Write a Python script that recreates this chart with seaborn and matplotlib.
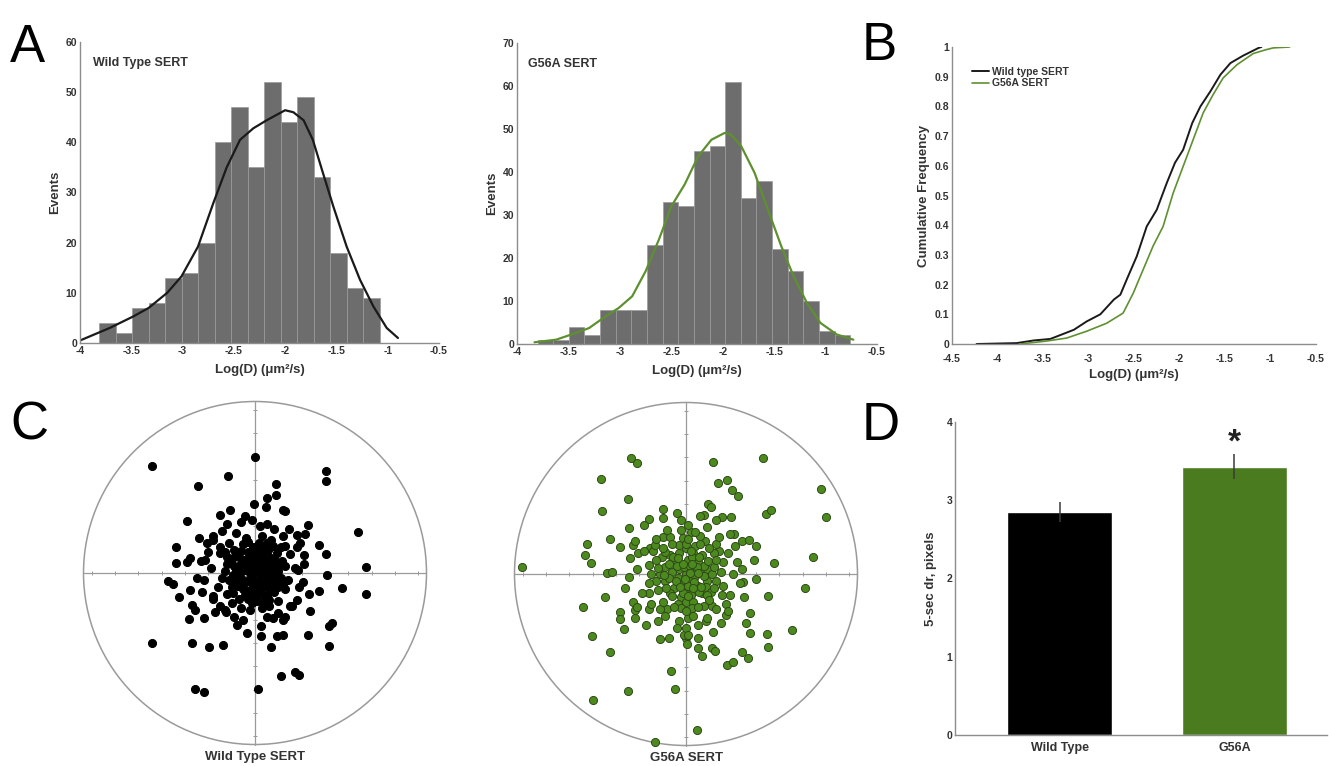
import numpy as np
import pandas as pd
import matplotlib
matplotlib.use("Agg")
import matplotlib.pyplot as plt
from matplotlib.patches import Circle
import seaborn as sns

# ---------------- data ----------------
wt_edges_lo, wt_edges_hi = -3.81, -1.08
wt_counts = [4, 2, 7, 8, 13, 14, 20, 40, 47, 35, 52, 44, 49, 33, 18, 11, 9]
g56_edges_lo, g56_edges_hi = -3.80, -0.76
g56_counts = [1, 1, 4, 2, 8, 8, 8, 23, 33, 32, 45, 46, 61, 34, 38, 22, 17, 10, 3, 2]

wt_fit_x = [-4.0, -3.71, -3.48, -3.33, -3.15, -3.01, -2.85, -2.70, -2.57, -2.44, -2.31,
            -2.18, -2.0, -1.92, -1.82, -1.73, -1.63, -1.53, -1.40, -1.27, -1.14, -1.01, -0.90]
wt_fit_y = [0.5, 3.0, 5.3, 7.0, 10.0, 13.3, 19.2, 27.9, 35.0, 40.5, 42.8,
            44.4, 46.4, 46.0, 44.4, 40.5, 33.8, 27.2, 19.2, 12.6, 7.3, 3.0, 1.0]
g56_fit_x = [-3.83, -3.62, -3.46, -3.30, -3.14, -3.01, -2.88, -2.75, -2.62, -2.50, -2.37,
             -2.24, -2.11, -1.98, -1.92, -1.82, -1.69, -1.56, -1.43, -1.31, -1.18, -1.05, -0.89, -0.73]
g56_fit_y = [0.4, 1.0, 2.3, 3.7, 6.4, 8.4, 11.1, 16.9, 24.3, 32.0, 37.1,
             43.6, 47.5, 49.1, 48.7, 46.0, 39.8, 31.2, 22.7, 15.7, 9.5, 4.9, 2.2, 1.0]

wt_cdf_x = [-4.23, -3.79, -3.60, -3.42, -3.31, -3.16, -3.02, -2.87, -2.72, -2.65, -2.58, -2.47,
            -2.36, -2.25, -2.14, -2.05, -1.96, -1.86, -1.77, -1.66, -1.55, -1.44, -1.30, -1.13, -1.10]
wt_cdf_y = [0.0, 0.003, 0.012, 0.017, 0.03, 0.048, 0.076, 0.10, 0.15, 0.166, 0.217, 0.295,
            0.396, 0.452, 0.542, 0.61, 0.654, 0.744, 0.80, 0.851, 0.907, 0.946, 0.971, 0.997, 1.0]
g56_cdf_x = [-3.75, -3.46, -3.24, -3.02, -2.80, -2.62, -2.51, -2.40, -2.29, -2.18, -2.07,
             -1.96, -1.85, -1.74, -1.63, -1.52, -1.37, -1.19, -1.06, -0.97, -0.79]
g56_cdf_y = [0.0, 0.01, 0.02, 0.043, 0.07, 0.104, 0.17, 0.25, 0.33, 0.396, 0.508,
             0.598, 0.688, 0.778, 0.84, 0.896, 0.94, 0.978, 0.99, 0.997, 1.0]

wt_scatter = [
    (-4.43, 4.58), (0.0, 4.96), (-1.17, 4.15), (-2.43, 3.75), (3.05, 4.36), (3.05, 3.93),
    (0.90, 3.82), (0.90, 3.33), (0.50, 3.20), (-0.03, 2.95), (0.46, 2.83), (-1.07, 2.69),
    (-1.50, 2.50), (1.19, 2.72), (1.29, 2.65), (-2.93, 2.22), (-0.43, 2.43), (-0.14, 2.29),
    (0.50, 2.12), (2.29, 2.06), (4.43, 1.75), (1.47, 1.89), (1.79, 1.65), (2.15, 1.69),
    (1.93, 1.29), (2.76, 1.19), (3.05, 0.82), (2.10, 0.76), (1.29, 1.14), (-3.39, 1.10),
    (-3.39, 0.43), (-2.93, 0.46), (-2.79, 0.64), (-2.07, 1.29), (-1.79, 1.57), (-2.15, 0.57),
    (-1.50, 0.86), (4.76, 0.26), (3.08, -0.10), (1.83, 0.14), (-3.72, -0.36), (-3.53, -0.46),
    (-2.79, -0.74), (-2.29, -0.82), (-3.25, -1.03), (-1.79, -1.00), (2.76, -0.79), (3.72, -0.66),
    (4.76, -0.89), (2.05, -0.40), (1.79, -1.14), (-2.68, -1.39), (-2.58, -1.57), (-2.81, -1.96),
    (-2.17, -1.93), (-1.72, -1.67), (-1.24, -1.65), (-0.76, -2.22), (-0.36, -2.58), (0.26, -2.29),
    (0.24, -2.72), (0.79, -1.93), (1.19, -2.00), (0.93, -2.68), (1.19, -2.65), (1.57, -1.43),
    (2.36, -1.62), (3.15, -2.29), (3.29, -2.15), (2.26, -2.65), (3.19, -3.12), (-4.43, -2.98),
    (-2.68, -2.98), (-1.96, -3.18), (-1.39, -3.10), (0.67, -3.15), (1.10, -4.41), (1.72, -4.26),
    (1.89, -4.36), (-2.58, -4.98), (-2.17, -5.11), (0.14, -4.98),
    (0.0, 0.0), (0.3, 0.1), (-0.3, 0.1), (0.1, 0.4), (0.1, -0.4), (0.5, 0.4), (-0.4, 0.4),
    (0.5, -0.3), (-0.4, -0.4), (0.7, 0.0), (-0.7, 0.0), (0.0, 0.8), (0.0, -0.8), (0.6, 0.7),
    (-0.6, 0.6), (0.6, -0.7), (-0.5, -0.7), (0.9, 0.3), (-0.9, 0.3), (0.9, -0.3), (-0.8, -0.3),
    (0.3, 0.9), (-0.3, 0.9), (0.3, -0.9), (-0.2, -1.0), (0.2, 0.2), (-0.2, -0.2), (0.4, -0.1),
    (-0.1, 0.5), (0.2, -0.6), (-0.6, -0.2), (0.8, 0.6), (1.0, 0.1), (1.1, -0.2), (0.4, 1.1),
    (-0.1, 1.1), (-0.3, -1.1), (0.1, -1.2), (0.5, -1.0), (0.8, -0.8), (-1.0, -0.6),
    (0.15, 0.55), (-0.15, 0.65), (0.45, 0.75), (-0.45, 0.15), (0.25, -0.2), (-0.1, -0.55),
    (0.65, -0.15), (0.75, 0.35), (-0.75, -0.55), (-0.3, -0.75), (0.35, -0.55), (0.85, -0.55),
    (-0.6, 0.95), (0.15, 1.3), (0.55, 1.0), (-1.0, 0.6), (-0.95, -0.1), (1.15, 0.5),
    (1.2, -0.45), (-0.7, -1.1), (0.35, -1.25), (-0.5, 1.25), (0.95, 0.85), (-1.3, 0.1),
    (-0.25, 0.3),
    (0.05, 0.2), (-0.15, 0.05), (0.35, 0.35), (-0.35, 0.6), (0.55, 0.15), (-0.55, -0.35),
    (0.2, -0.75), (-0.1, -0.35), (0.45, -0.5), (0.7, -0.45), (-0.8, 0.15), (-0.65, 0.35),
    (0.25, 0.65), (0.65, 0.5), (-0.2, 0.8), (0.05, 1.0), (-0.45, -0.95), (0.05, -0.95),
    (0.95, -0.05), (1.05, 0.35), (-1.1, -0.3), (-0.85, 0.75), (0.75, 1.15), (1.0, -0.6),
    (0.6, -1.15), (-0.15, -1.3), (-0.95, -0.85), (-1.2, 0.7), (0.5, 1.3), (-0.3, 1.35),
    (-1.3, 0.9), (-1.1, 1.3), (-1.5, 1.1), (-1.2, 0.4), (-1.4, -0.2), (-1.2, -0.9), (-1.6, -0.6),
    (-1.0, -1.3), (-0.6, -1.5), (-0.2, -1.6), (0.3, -1.5), (0.6, -1.4), (1.0, -1.2), (1.3, -0.7),
    (1.4, -0.3), (1.3, 0.3), (1.5, 0.8), (1.1, 1.1), (0.7, 1.4), (0.3, 1.6), (-0.4, 1.5),
    (-0.8, 1.7), (-1.8, 1.4), (-2.0, 0.9), (-1.9, 0.2), (-2.2, -0.3), (-1.8, -1.1), (-1.3, -1.6),
    (-0.5, -2.0), (0.5, -1.9), (1.5, -1.4), (1.9, -0.6), (2.1, 0.4), (1.8, 1.1), (1.2, 1.6),
    (0.2, 2.0), (-0.6, 2.2), (-1.4, 1.8), (-2.4, 1.5), (-2.3, 0.5), (-2.5, -0.2), (-1.2, 2.1),
    (-0.9, 1.0), (1.7, 0.2), (0.8, 1.9), (1.0, -1.7), (-1.5, -1.4), (-0.9, -1.9), (2.3, -0.9),
    (1.3, -1.9),
]
g56_scatter = [
    (-2.36, 4.99), (-2.09, 4.75), (1.14, 4.79), (3.32, 4.98), (-3.65, 4.06), (1.39, 3.92),
    (1.77, 4.03), (1.96, 3.61), (2.22, 3.36), (5.79, 3.63), (5.99, 2.46), (-2.47, 3.20),
    (-3.62, 2.70), (0.96, 3.00), (1.06, 2.89), (0.77, 2.53), (1.53, 2.46), (1.93, 2.46),
    (3.43, 2.58), (3.65, 2.75), (-1.00, 2.79), (-1.59, 2.35), (-2.43, 1.99), (-4.26, 1.29),
    (-4.33, 0.82), (-4.09, 0.49), (-3.26, 1.49), (-2.83, 1.17), (-2.26, 1.24), (-2.05, 0.89),
    (-1.55, 1.10), (2.07, 1.72), (2.39, 1.43), (2.70, 1.46), (2.99, 1.22), (2.93, 0.60),
    (3.75, 0.46), (5.44, 0.74), (5.11, -0.62), (-7.01, 0.31), (-3.40, 0.03), (-3.16, 0.10),
    (-2.45, -0.11), (2.39, 0.20), (2.99, -0.23), (2.43, -0.36), (3.51, -0.94), (-3.48, -0.97),
    (-4.41, -1.40), (-2.26, -1.19), (-2.83, -1.62), (-2.83, -1.93), (-2.19, -1.55), (-2.19, -1.90),
    (-1.59, -1.50), (-1.70, -2.19), (-2.65, -2.37), (-4.01, -2.65), (-3.26, -3.33), (-1.12, -2.80),
    (-0.72, -2.73), (0.0, -2.76), (0.50, -2.73), (0.86, -2.02), (1.17, -2.47), (1.72, -1.76),
    (2.75, -1.69), (2.58, -2.12), (2.75, -2.52), (3.46, -2.58), (3.52, -3.12), (4.56, -2.40),
    (0.53, -3.19), (0.67, -3.52), (1.10, -3.19), (1.24, -3.29), (2.39, -3.33), (2.65, -3.58),
    (1.77, -3.91), (2.02, -3.76), (-0.64, -4.15), (-0.47, -4.94), (-2.47, -5.01), (-3.98, -5.41),
    (0.46, -6.70), (-1.33, -7.20),
    (0.0, 0.0), (0.3, 0.2), (-0.3, 0.2), (0.2, -0.3), (-0.2, -0.3), (0.6, 0.1), (-0.6, 0.1),
    (0.1, 0.6), (0.0, -0.6), (0.5, 0.5), (-0.5, 0.5), (0.5, -0.5), (-0.5, -0.6), (0.9, 0.2),
    (-0.9, 0.3), (0.9, -0.3), (-0.9, -0.3), (0.3, 0.9), (-0.3, 0.9), (0.2, -0.9), (-0.2, -1.0),
    (0.7, 0.8), (-0.7, 0.8), (0.7, -0.8), (-0.7, -0.8), (1.1, 0.0), (-1.1, 0.0), (0.0, 1.1),
    (0.0, -1.2), (0.4, -0.1), (-0.1, 0.3), (0.1, -0.5),
    (0.15, 0.35), (-0.4, 0.35), (0.35, -0.35), (-0.35, -0.15), (0.75, 0.35), (-0.75, -0.15),
    (0.25, 0.75), (-0.15, -0.8), (0.55, -0.75), (-0.55, 0.75), (0.85, -0.55), (-0.85, -0.6),
    (1.2, 0.3), (-1.2, 0.25), (0.4, 1.2), (-0.3, 1.25), (0.3, -1.2), (-0.35, -1.3), (1.3, -0.3),
    (-1.3, -0.3), (0.8, 1.4), (-0.8, -1.5), (1.4, 1.0), (-1.4, 1.0), (0.1, -1.9), (-0.1, -2.6),
    (0.05, -3.0), (0.2, 1.8),
    (0.15, 0.05), (-0.15, 0.45), (0.45, 0.3), (-0.45, -0.3), (0.3, -0.6), (-0.25, -0.55),
    (0.75, -0.1), (-0.75, 0.45), (0.55, 0.75), (-0.35, 0.7), (0.95, 0.55), (-0.95, -0.05),
    (0.65, -0.55), (-0.6, -0.95), (0.1, -0.95), (1.05, -0.75), (-1.05, 0.75), (0.2, 1.0),
    (-0.15, 1.55), (0.6, 1.65), (1.3, 1.3), (1.6, 0.5), (1.55, -0.9), (0.75, -1.35),
    (-0.2, -1.45), (-1.1, -1.5), (-1.6, -0.8), (-1.6, 0.4), (-1.0, 1.6), (0.25, -1.45),
    (1.1, -1.35), (-1.35, 1.25), (0.0, 1.3), (1.2, 0.9), (-0.7, 1.6), (0.9, -0.9),
    (-0.9, 0.95), (0.5, 0.05), (-0.05, -0.2), (0.25, 0.45),
    (1.3, 0.6), (1.2, -0.6), (-1.3, 0.6), (-1.2, -0.7), (0.6, 1.3), (-0.6, 1.3), (0.5, -1.4),
    (-0.5, -1.4), (1.5, 0.1), (-1.5, 0.0), (0.1, 1.5), (0.0, -1.6), (1.0, 1.1), (-1.0, 1.1),
    (1.0, -1.1), (-1.0, -1.2), (1.6, -0.5), (-1.6, -0.4), (0.3, -1.8), (-0.3, -2.0), (0.0, -2.3),
    (0.1, -2.6), (-0.2, 1.9), (0.1, 2.1), (0.4, 1.8),
    (1.8, 0.9), (2.0, 0.0), (1.9, -0.9), (1.3, -1.5), (0.9, -1.9), (-0.9, -1.8), (-1.5, -1.3),
    (-1.9, -0.8), (-2.1, 0.2), (-1.8, 1.0), (-1.3, 1.5), (-0.8, 1.9), (0.9, 2.0), (1.4, 1.6),
    (2.2, 0.5), (2.3, -0.4), (1.7, -1.3), (-0.4, -2.3), (-1.2, -2.0), (-2.1, -1.4), (-2.4, 0.7),
    (-2.2, 1.4), (-1.0, 2.4), (-0.4, 2.6), (0.6, 2.5), (1.3, 2.3), (1.9, 1.7), (2.5, -1.0),
    (1.5, -2.1), (-1.8, 2.1), (-2.6, -0.6), (0.5, -2.2), (-0.2, 2.3), (1.8, -1.6), (2.1, 1.2),
]

bar_cats = ["Wild Type", "G56A"]
bar_vals = [2.85, 3.43]
bar_sems = [0.13, 0.16]

# ---------------- style ----------------
sns.set_theme(style="white")
plt.rcParams["font.family"] = ["Liberation Sans", "DejaVu Sans"]
plt.rcParams["font.weight"] = "bold"
plt.rcParams["axes.labelweight"] = "bold"

GRAY_BAR = "#6d6d6d"
GREEN = "#4a7c1f"
GREEN_LINE = "#5f9030"
SPINE = "#8c8c8c"
TXT = "#333333"
TICK_FS = 7.5
LAB_FS = 9.5

W, H = 1329, 766
fig = plt.figure(figsize=(W / 100, H / 100), dpi=100)
fig.patch.set_facecolor("white")


def ax_px(x0, y0, x1, y1):
    return fig.add_axes([x0 / W, 1 - y1 / H, (x1 - x0) / W, (y1 - y0) / H])


def style(ax, xpad=2):
    for s in ["top", "right"]:
        ax.spines[s].set_visible(False)
    for s in ["left", "bottom"]:
        ax.spines[s].set_color(SPINE)
        ax.spines[s].set_linewidth(1.0)
    ax.tick_params(direction="in", length=3, width=0.8, color=SPINE,
                   labelsize=TICK_FS, labelcolor=TXT, pad=2)
    ax.tick_params(axis="x", pad=xpad)
    for lab in ax.get_xticklabels() + ax.get_yticklabels():
        lab.set_fontweight("bold")


def fmt(v):
    return ("%g" % v)


def hist_panel(ax, lo, hi, counts, fit_x, fit_y, line_color, ymax, title, tx):
    edges = np.linspace(lo, hi, len(counts) + 1)
    df = pd.DataFrame({"center": (edges[:-1] + edges[1:]) / 2,
                       "count": np.asarray(counts, dtype=float)})
    sns.histplot(data=df, x="center", weights="count", bins=edges.tolist(),
                 color=GRAY_BAR, alpha=1, edgecolor="#9a9a9a", linewidth=0.5, ax=ax)
    sns.lineplot(x=fit_x, y=fit_y, color=line_color, lw=1.6, ax=ax, sort=False)
    ax.set_xlim(-4, -0.5)
    ax.set_ylim(0, ymax)
    xt = np.arange(-4, -0.49, 0.5)
    ax.set_xticks(xt)
    ax.set_xticklabels([fmt(v) for v in xt])
    ax.set_yticks(np.arange(0, ymax + 1, 10))
    ax.set_xlabel("Log(D) (μm²/s)", fontsize=LAB_FS, color=TXT, labelpad=6)
    ax.set_ylabel("Events", fontsize=LAB_FS, color=TXT, labelpad=3)
    ax.text(tx, 0.93, title, transform=ax.transAxes, fontsize=9,
            fontweight="bold", color=TXT, va="center")
    style(ax)


# ---------------- Panel A ----------------
axA1 = ax_px(80, 42, 439, 343)
hist_panel(axA1, wt_edges_lo, wt_edges_hi, wt_counts, wt_fit_x, wt_fit_y,
           "#1a1a1a", 60, "Wild Type SERT", 0.037)
axA2 = ax_px(517, 43, 877, 344)
hist_panel(axA2, g56_edges_lo, g56_edges_hi, g56_counts, g56_fit_x, g56_fit_y,
           GREEN_LINE, 70, "G56A SERT", 0.03)

# ---------------- Panel B ----------------
axB = ax_px(952, 47, 1316, 344)
sns.lineplot(x=wt_cdf_x, y=wt_cdf_y, color="#1a1a1a", lw=1.4, ax=axB, sort=False,
             label="Wild type SERT")
sns.lineplot(x=g56_cdf_x, y=g56_cdf_y, color=GREEN_LINE, lw=1.2, ax=axB, sort=False,
             label="G56A SERT")
axB.set_xlim(-4.5, -0.5)
axB.set_ylim(0, 1)
xtb = np.arange(-4.5, -0.49, 0.5)
axB.set_xticks(xtb)
axB.set_xticklabels([fmt(v) for v in xtb])
ytb = np.round(np.arange(0, 1.01, 0.1), 1)
axB.set_yticks(ytb)
axB.set_yticklabels([fmt(v) for v in ytb])
axB.set_xlabel("Log(D) (μm²/s)", fontsize=LAB_FS, color=TXT, labelpad=4)
axB.set_ylabel("Cumulative Frequency", fontsize=LAB_FS, color=TXT, labelpad=3)
leg = axB.legend(loc="upper left", bbox_to_anchor=(0.03, 0.965), frameon=False,
                 fontsize=7.5, handlelength=1.6, handletextpad=0.3, labelspacing=0.15)
for t in leg.get_texts():
    t.set_fontweight("bold")
    t.set_color(TXT)
style(axB, xpad=7)

# ---------------- Panel C ----------------
R = 7.35


def polar_panel(ax, pts, color, edge, label):
    ax.set_xlim(-7.5, 7.5)
    ax.set_ylim(-7.5, 7.5)
    ax.set_aspect("equal")
    ax.axis("off")
    ax.add_patch(Circle((0, 0), R, fill=False, ec="#9a9a9a", lw=1.1))
    ax.plot([-R, R], [0, 0], color="#9a9a9a", lw=0.9)
    ax.plot([0, 0], [-R, R], color="#9a9a9a", lw=0.9)
    tk = np.arange(-7, 8, 1)
    ax.plot(tk, np.zeros_like(tk), ls="none", marker="|", ms=3, color="#9a9a9a", mew=0.7)
    ax.plot(np.zeros_like(tk), tk, ls="none", marker="_", ms=3, color="#9a9a9a", mew=0.7)
    df = pd.DataFrame(pts, columns=["x", "y"])
    sns.scatterplot(data=df, x="x", y="y", color=color, edgecolor=edge, linewidth=0.7,
                    s=34, ax=ax, zorder=3)
    ax.text(0, -7.62, label, ha="center", va="top", fontsize=LAB_FS, fontweight="bold",
            color=TXT)


axC1 = ax_px(80, 398, 430, 748)
polar_panel(axC1, wt_scatter, "black", "black", "Wild Type SERT")
axC2 = ax_px(511, 399, 861, 749)
polar_panel(axC2, g56_scatter, "#4d8a1e", "#2f4a1a", "G56A SERT")

# ---------------- Panel D ----------------
axD = ax_px(955, 422, 1327, 735)
sns.barplot(x=bar_cats, y=bar_vals, hue=bar_cats, palette=["black", GREEN],
            width=0.6, legend=False, ax=axD, saturation=1)
axD.errorbar(x=[0, 1], y=bar_vals, yerr=bar_sems, fmt="none", ecolor="#3a3a3a",
             elinewidth=1.1, capsize=0)
axD.text(1, bar_vals[1] + bar_sems[1] - 0.06, "*", ha="center", va="bottom",
         fontsize=24, fontweight="bold", color="#222222")
axD.set_xlim(-0.6, 1.53)
axD.set_ylim(0, 4)
axD.set_yticks([0, 1, 2, 3, 4])
axD.set_ylabel("5-sec dr, pixels", fontsize=LAB_FS, color=TXT, labelpad=7)
axD.set_xlabel("")
style(axD)
axD.tick_params(axis="x", length=0, labelsize=9, pad=5)

# ---------------- Panel letters ----------------
for letter, x, y in [("A", 10, 62), ("B", 862, 60), ("C", 10, 440), ("D", 862, 440)]:
    fig.text(x / W, 1 - y / H, letter, fontsize=38, fontweight="normal",
             color="black", ha="left", va="baseline")

fig.savefig("out.png", dpi=100, facecolor="white")
